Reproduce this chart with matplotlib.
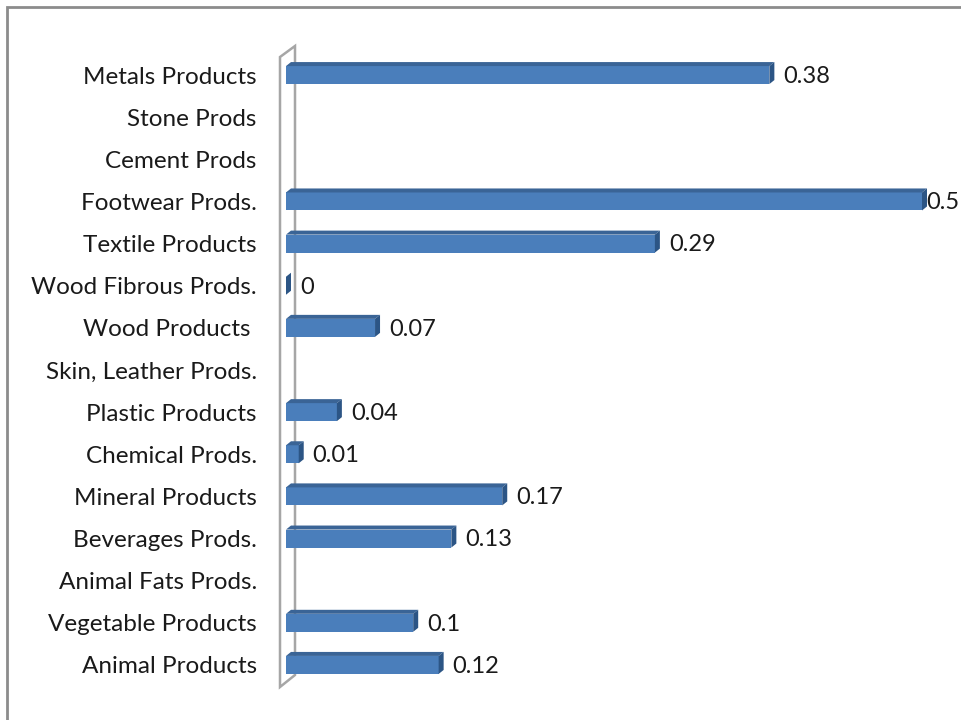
import matplotlib.pyplot as plt
from matplotlib.patches import Polygon, Rectangle
import numpy as np

# data, bottom to top
categories = ['Animal Products', 'Vegetable Products', 'Animal Fats Prods.',
              'Beverages Prods.', 'Mineral Products', 'Chemical Prods.',
              'Plastic Products', 'Skin, Leather Prods.', 'Wood Products ',
              'Wood Fibrous Prods.', 'Textile Products', 'Footwear Prods.',
              'Cement Prods', 'Stone Prods', 'Metals Products']
values = [0.12, 0.1, None, 0.13, 0.17, 0.01, 0.04, None, 0.07,
          0.0, 0.29, 0.5, None, None, 0.38]
value_labels = ['0.12', '0.1', '', '0.13', '0.17', '0.01', '0.04', '',
                '0.07', '0', '0.29', '0.5', '', '', '0.38']

W, H = 962, 720
fig = plt.figure(figsize=(W / 100, H / 100), dpi=100)
plt.rcParams['font.family'] = ['Lato', 'DejaVu Sans']

# axes placement in pixels
x0, x1 = 286, 922
ytop, ybot = 54, 686
ax = fig.add_axes([x0 / W, 1 - ybot / H, (x1 - x0) / W, (ybot - ytop) / H])
ax.set_xlim(0, 0.5)
ax.set_ylim(-0.5, len(categories) - 0.5)

px_x = 0.5 / (x1 - x0)                  # data units per pixel
px_y = len(categories) / (ybot - ytop)

# 3d wall on the left
wall = Polygon([(-6 * px_x, -0.5 - 1 * px_y), (-6 * px_x, 14.5 - 3 * px_y),
                (9 * px_x, 14.5 + 8 * px_y), (9 * px_x, -0.5 + 11 * px_y)],
               closed=True, facecolor='white', edgecolor='#a6a6a6', lw=1.8,
               clip_on=False, zorder=1)
ax.add_patch(wall)

front = '#4a7ebb'
top_c = '#3a6496'
side_c = '#2c5585'
bar_h = 18 * px_y
dx, dy = 5 * px_x, 4 * px_y

y = np.arange(len(categories))
for yi, v, lab in zip(y, values, value_labels):
    if v is None:
        continue
    ax.add_patch(Rectangle((0, yi - bar_h / 2), v, bar_h, facecolor=front,
                           edgecolor='none', zorder=3, clip_on=False))
    top = Polygon([(0, yi + bar_h / 2), (dx, yi + bar_h / 2 + dy),
                   (v + dx, yi + bar_h / 2 + dy), (v, yi + bar_h / 2)],
                  facecolor=top_c, edgecolor='none', zorder=3, clip_on=False)
    side = Polygon([(v, yi - bar_h / 2), (v, yi + bar_h / 2),
                    (v + dx, yi + bar_h / 2 + dy), (v + dx, yi - bar_h / 2 + dy)],
                   facecolor=side_c, edgecolor='none', zorder=3, clip_on=False)
    ax.add_patch(top)
    ax.add_patch(side)
    off = 14 if v < 0.45 else 4
    ax.annotate(lab, (v, yi), xytext=(off * 0.72, -1), textcoords='offset points',
                va='center', ha='left', fontsize=17, color='#1a1a1a',
                annotation_clip=False, zorder=4)

ax.set_yticks(y)
ax.set_yticklabels(categories, fontsize=17.5, color='#1a1a1a')
ax.tick_params(axis='y', length=0, pad=21)
ax.set_xticks([])
for s in ax.spines.values():
    s.set_visible(False)

# outer chart border
fig.patches.append(Rectangle((7 / W, -0.1), 1.1, 1 - 7 / H + 0.1,
                             transform=fig.transFigure, fill=False,
                             edgecolor='#8c8c8c', lw=2))

fig.savefig('out.png', dpi=100)
